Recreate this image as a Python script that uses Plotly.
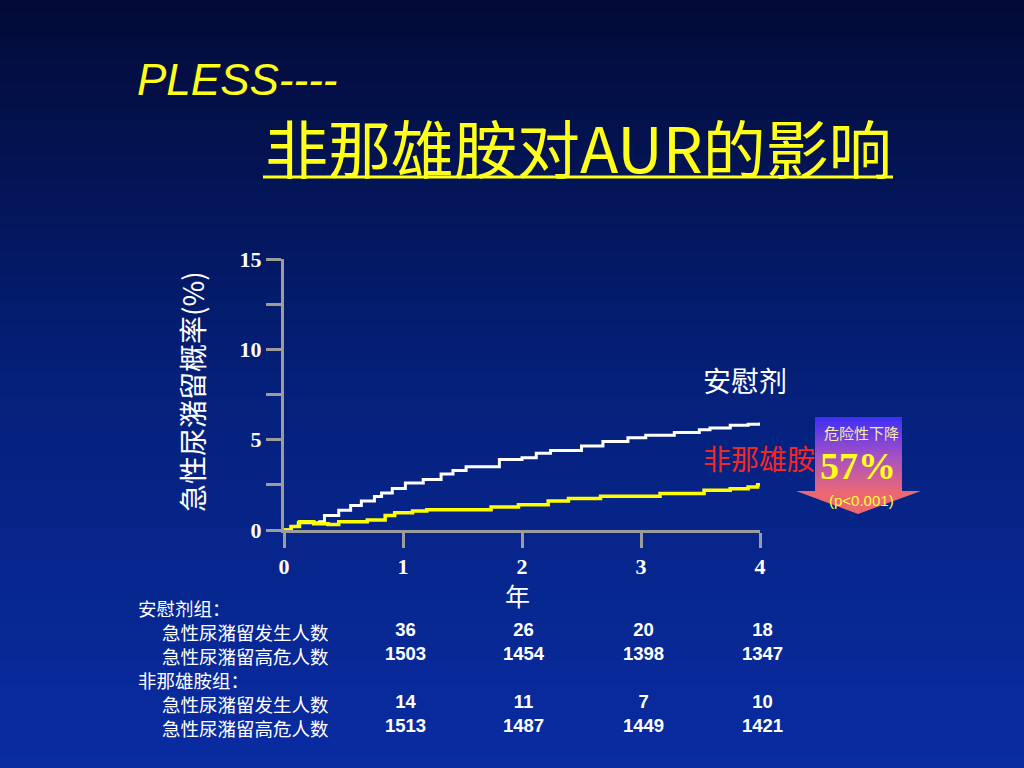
import plotly.graph_objects as go

W, H = 1024, 768

# ---------------- data ----------------
years = [0, 1, 2, 3, 4]
y_ticks = [0, 2.5, 5, 7.5, 10, 12.5, 15]
y_ticktext = ["0", "", "5", "", "10", "", "15"]

placebo_x = [0, 0.06, 0.12, 0.30, 0.34, 0.46, 0.56, 0.65, 0.76, 0.82, 0.91, 1.02, 1.17, 1.32,
             1.42, 1.53, 1.81, 2.00, 2.12, 2.24, 2.50, 2.68, 2.89, 3.04, 3.28, 3.49, 3.58,
             3.75, 3.90, 4.00]
placebo_y = [0, 0.2, 0.4, 0.45, 0.8, 1.1, 1.35, 1.6, 1.85, 2.05, 2.3, 2.6, 2.8, 3.1,
             3.3, 3.5, 3.9, 4.0, 4.25, 4.4, 4.65, 4.9, 5.1, 5.25, 5.4, 5.55, 5.65,
             5.8, 5.85, 5.95]

fin_x = [0, 0.06, 0.13, 0.25, 0.37, 0.46, 0.70, 0.85, 0.93, 1.08, 1.20, 1.74, 1.97, 2.22,
         2.39, 2.66, 3.16, 3.53, 3.75, 3.90, 3.98, 4.00]
fin_y = [0, 0.2, 0.45, 0.35, 0.3, 0.45, 0.55, 0.8, 0.95, 1.05, 1.12, 1.27, 1.4, 1.6,
         1.75, 1.87, 2.02, 2.2, 2.28, 2.38, 2.5, 2.5]

table_cols = [1, 2, 3, 4]
placebo_events = ["36", "26", "20", "18"]
placebo_risk = ["1503", "1454", "1398", "1347"]
fin_events = ["14", "11", "7", "10"]
fin_risk = ["1513", "1487", "1449", "1421"]

row_label_events = "急性尿潴留发生人数"
row_label_risk = "急性尿潴留高危人数"
group_placebo = "安慰剂组："
group_fin = "非那雄胺组："

title1 = "PLESS----"
title2 = "非那雄胺对AUR的影响"
y_title = "急性尿潴留概率(%)"
x_title = "年"
name_placebo = "安慰剂"
name_fin = "非那雄胺"
badge_top = "危险性下降"
badge_mid = "57%"
badge_bot = "(p<0.001)"

# ---------------- helpers ----------------
def P(x):
    return x / W

def Q(y):
    return 1 - y / H

CJK = "Noto Sans CJK SC"
SERIF = "Liberation Serif"
SANS = "Liberation Sans"
YELLOW = "#ffff1a"
GREY = "#9c9c9c"
BLANK = "&nbsp;"

fig = go.Figure()

fig.add_trace(go.Scatter(x=placebo_x, y=placebo_y, mode="lines", line_shape="hv",
                         line=dict(color="white", width=3), showlegend=False,
                         hoverinfo="skip"))
fig.add_trace(go.Scatter(x=fin_x, y=fin_y, mode="lines", line_shape="hv",
                         line=dict(color="#ffff00", width=3.5), showlegend=False,
                         hoverinfo="skip"))

shapes = []
# background gradient
stops = [(0, (2, 10, 54)), (384, (5, 32, 122)), (768, (9, 44, 162))]
N = 64
for i in range(N):
    y0 = i * H / N
    y1 = (i + 1) * H / N
    yc = (y0 + y1) / 2
    for (a, ca), (b, cb) in zip(stops[:-1], stops[1:]):
        if a <= yc <= b:
            t = (yc - a) / (b - a)
            c = tuple(int(round(ca[k] + (cb[k] - ca[k]) * t)) for k in range(3))
            break
    shapes.append(dict(type="rect", xref="paper", yref="paper", x0=0, x1=1,
                       y0=max(0, Q(y1) - 0.0015), y1=Q(y0), line=dict(width=0),
                       fillcolor="rgb(%d,%d,%d)" % c, layer="below"))

# title underline
shapes.append(dict(type="line", xref="paper", yref="paper", x0=P(263), x1=P(893),
                   y0=Q(177), y1=Q(177), line=dict(color=YELLOW, width=3)))

# badge: arrow head then gradient box
shapes.append(dict(type="path", xref="paper", yref="paper",
                   path="M %f,%f L %f,%f L %f,%f Z" % (P(796), Q(491), P(921), Q(491), P(858), Q(514)),
                   fillcolor="rgb(236,104,112)", line=dict(width=0)))
bstops = [(0, (62, 46, 244)), (0.5, (160, 80, 200)), (1, (236, 104, 118))]
top, bot = 417, 492
M = 30
for i in range(M):
    y0 = top + (bot - top) * i / M
    y1 = top + (bot - top) * (i + 1) / M
    t = (i + 0.5) / M
    for (a, ca), (b, cb) in zip(bstops[:-1], bstops[1:]):
        if a <= t <= b:
            u = (t - a) / (b - a)
            c = tuple(int(round(ca[k] + (cb[k] - ca[k]) * u)) for k in range(3))
            break
    shapes.append(dict(type="rect", xref="paper", yref="paper", x0=P(815), x1=P(902),
                       y0=Q(y1) - 0.0005, y1=Q(y0), line=dict(width=0),
                       fillcolor="rgb(%d,%d,%d)" % c))

ann = []
ann.append(dict(text=title1, x=P(135), y=Q(80), xanchor="left", yanchor="middle",
                font=dict(family=SANS, size=44, color=YELLOW, style="italic")))
ann.append(dict(text=title2, x=P(578), y=Q(145), xanchor="center", yanchor="middle",
                font=dict(family=CJK, size=63, color=YELLOW)))
ann.append(dict(text=y_title, x=P(192), y=Q(392), xanchor="center", yanchor="middle",
                textangle=-90, font=dict(family=CJK, size=28, color="white")))
ann.append(dict(text=x_title, x=P(517), y=Q(595), xanchor="center", yanchor="middle",
                font=dict(family=CJK, size=25, color="white")))
ann.append(dict(text=name_placebo, x=P(701), y=Q(380), xanchor="left", yanchor="middle",
                font=dict(family=CJK, size=28, color="white")))
ann.append(dict(text=name_fin, x=P(701), y=Q(458), xanchor="left", yanchor="middle",
                font=dict(family=CJK, size=28, color="#f02828")))
ann.append(dict(text=badge_top, x=P(861), y=Q(432), xanchor="center", yanchor="middle",
                font=dict(family=CJK, size=15, color="#f8eca8")))
ann.append(dict(text="<b>" + badge_mid + "</b>", x=P(858), y=Q(466), xanchor="center",
                yanchor="middle", font=dict(family=SERIF, size=38, color=YELLOW)))
ann.append(dict(text=badge_bot, x=P(861), y=Q(500), xanchor="center", yanchor="middle",
                font=dict(family=SANS, size=15, color="#ffff3a")))

# table: each column is one multi-line annotation (line height = 1.3 * font size)
FS = 18.5
top_row = 606
TY = Q(top_row - 13)
ann.append(dict(text="<br>".join([group_placebo, BLANK, BLANK, group_fin, BLANK, BLANK]),
                x=P(136), y=TY, xanchor="left", yanchor="top", align="left",
                font=dict(family=CJK, size=FS, color="white")))
ann.append(dict(text="<br>".join([BLANK, row_label_events, row_label_risk, BLANK,
                                  row_label_events, row_label_risk]),
                x=P(160), y=TY, xanchor="left", yanchor="top", align="left",
                font=dict(family=CJK, size=FS, color="white")))
for i, cx in enumerate(table_cols):
    lines = [BLANK, placebo_events[i], placebo_risk[i], BLANK, fin_events[i], fin_risk[i]]
    ann.append(dict(text="<br>".join(s if s == BLANK else "<b>" + s + "</b>" for s in lines),
                    x=cx, xref="x", y=TY, yref="paper",
                    xanchor="center", yanchor="top", align="center", xshift=2,
                    font=dict(family=SANS, size=FS, color="white")))

for a in ann:
    a.setdefault("xref", "paper")
    a.setdefault("yref", "paper")
    a["showarrow"] = False

fig.update_layout(
    template="none",
    width=W, height=H, autosize=False,
    margin=dict(l=0, r=0, t=0, b=0, pad=0, autoexpand=False),
    paper_bgcolor="rgb(5,30,120)",
    plot_bgcolor="rgba(0,0,0,0)",
    shapes=shapes,
    annotations=ann,
    xaxis=dict(domain=[P(284), P(760)], range=[0, 4], tickvals=years,
               ticktext=[str(v) for v in years], automargin=False,
               showline=True, linecolor=GREY, linewidth=3,
               ticks="outside", ticklen=15, tickwidth=3, tickcolor=GREY,
               showgrid=False, zeroline=False,
               tickfont=dict(family=SERIF, size=22, color="white", weight="bold")),
    yaxis=dict(domain=[Q(530), Q(259)], range=[0, 15], tickvals=y_ticks,
               ticktext=y_ticktext, automargin=False,
               showline=True, linecolor=GREY, linewidth=3,
               ticks="outside", ticklen=15, tickwidth=3, tickcolor=GREY,
               showgrid=False, zeroline=False,
               tickfont=dict(family=SERIF, size=22, color="white", weight="bold")),
)

post = (
    "document.documentElement.style.setProperty('margin','0','important');"
    "document.body.style.setProperty('margin','0','important');"
    "document.body.style.setProperty('padding','0','important');"
    "document.body.style.setProperty('overflow','hidden','important');"
    "document.body.style.background='rgb(5,30,120)';"
    "var d=document.getElementById('{plot_id}');"
    "d.style.position='fixed';d.style.left='0px';d.style.top='0px';"
)

fig.write_html("out.html", config={"displayModeBar": False, "responsive": False},
               post_script=post)
